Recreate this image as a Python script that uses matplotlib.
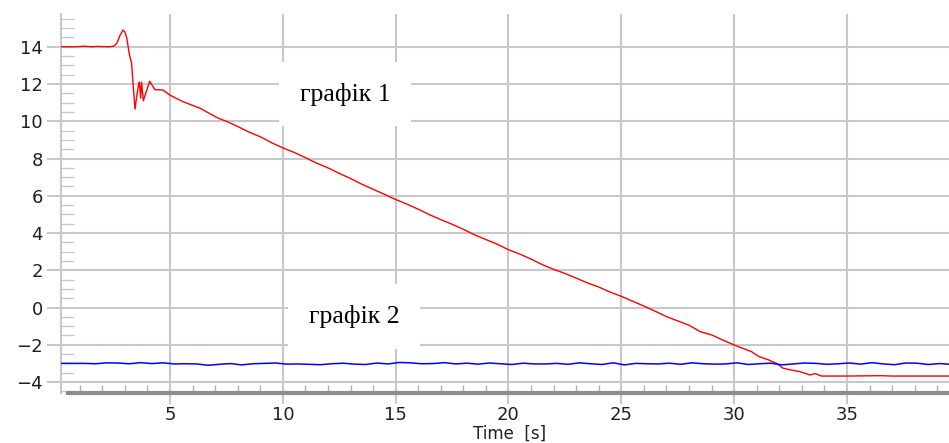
import numpy as np
import matplotlib
matplotlib.use("Agg")
import matplotlib.pyplot as plt
from matplotlib.ticker import MultipleLocator

# graph 1 (red): time [s] and value
red_t = [0.17, 0.8, 1.2, 1.5, 1.8, 2.3, 2.5, 2.65, 2.78, 2.92, 3.0, 3.08, 3.2, 3.3,
         3.36, 3.45, 3.52, 3.6, 3.64, 3.7, 3.74, 3.82, 3.95, 4.1, 4.33, 4.69, 5.0,
         5.58, 6.33, 7.13, 7.5, 8.0, 8.5, 9.0, 9.5, 10.0, 10.5, 11.0, 11.5, 12.0,
         12.5, 13.0, 13.5, 14.0, 14.5, 15.0, 15.5, 16.0, 16.5, 17.0, 17.5, 18.0,
         18.5, 19.0, 19.5, 20.0, 20.5, 21.0, 21.5, 22.0, 22.5, 23.0, 23.5, 24.0,
         24.5, 25.0, 25.38, 26.0, 26.5, 27.0, 27.5, 28.0, 28.5, 29.0, 29.5, 30.0,
         30.4, 30.77, 31.1, 31.5, 31.88, 32.17, 32.5, 32.9, 33.36, 33.6, 33.87,
         35.0, 36.5, 37.0, 38.5, 39.52]
red_v = [14.0, 14.0, 14.03, 14.0, 14.02, 14.0, 14.03, 14.2, 14.6, 14.9, 14.8, 14.5,
         13.6, 13.1, 12.05, 10.65, 11.3, 11.9, 12.1, 11.25, 12.1, 11.1, 11.6, 12.15,
         11.7, 11.68, 11.4, 11.05, 10.7, 10.17, 10.0, 9.72, 9.42, 9.17, 8.85, 8.57,
         8.33, 8.05, 7.75, 7.5, 7.2, 6.93, 6.62, 6.35, 6.08, 5.8, 5.55, 5.28, 4.98,
         4.72, 4.47, 4.2, 3.9, 3.65, 3.4, 3.1, 2.87, 2.6, 2.3, 2.05, 1.83, 1.58,
         1.32, 1.1, 0.83, 0.6, 0.4, 0.08, -0.2, -0.49, -0.72, -0.95, -1.3, -1.47,
         -1.75, -2.01, -2.2, -2.37, -2.64, -2.8, -3.0, -3.26, -3.35, -3.44, -3.62,
         -3.55, -3.68, -3.68, -3.66, -3.68, -3.68, -3.68]

# graph 2 (blue): sampled about every 0.5 s
blue_v = [-3.00, -3.00, -3.00, -3.02, -2.97, -2.98, -3.02, -2.96, -3.01, -2.97,
          -3.03, -3.02, -3.03, -3.10, -3.05, -3.01, -3.08, -3.02, -3.00, -2.98,
          -3.04, -3.03, -3.05, -3.07, -3.02, -2.99, -3.04, -3.06, -2.98, -3.03,
          -2.95, -2.97, -3.02, -3.01, -2.96, -3.03, -2.99, -3.04, -2.98, -3.02,
          -3.06, -2.99, -3.03, -3.03, -3.00, -3.05, -2.97, -3.02, -3.06, -2.97,
          -3.08, -3.00, -3.02, -3.03, -2.99, -3.05, -2.97, -3.02, -3.04, -3.03,
          -2.97, -3.06, -3.02, -2.99, -3.08, -3.03, -2.98, -3.00, -3.05, -3.02,
          -2.98, -3.04, -2.96, -3.03, -3.07, -2.98, -2.99, -3.06, -3.01, -3.05]
blue_t = np.linspace(0.2, 39.6, len(blue_v))

x_ticks = [5, 10, 15, 20, 25, 30, 35]
y_ticks = [-4, -2, 0, 2, 4, 6, 8, 10, 12, 14]

grid_c = '#c8c8c8'

fig = plt.figure(figsize=(9.49, 4.43), dpi=100)
ax = fig.add_axes([61 / 949, 50 / 443, 888 / 949, 379 / 443])

ax.plot(red_t, red_v, color='#ff0000', linewidth=1.0, zorder=3)
ax.plot(blue_t, blue_v, color='#0000ff', linewidth=1.1, zorder=3)

ax.set_xlim(0.17, 39.52)
ax.set_ylim(-4.59, 15.76)
ax.set_xticks(x_ticks)
ax.set_yticks(y_ticks)
ax.xaxis.set_minor_locator(MultipleLocator(1))
ax.yaxis.set_minor_locator(MultipleLocator(0.5))
ax.grid(True, which='major', color=grid_c, linewidth=1.5, zorder=0)

ax.tick_params(axis='both', which='major', direction='out', color=grid_c, width=1.5,
               labelsize=13, labelcolor='#202020')
ax.tick_params(axis='x', which='major', length=8, pad=1)
ax.tick_params(axis='y', which='major', length=10, pad=3)
ax.tick_params(axis='x', which='minor', direction='in', length=6, width=1, color='#b0b0b0')
ax.tick_params(axis='y', which='minor', direction='in', length=9, width=1, color='#c8c8c8')

for s in ['top', 'right']:
    ax.spines[s].set_visible(False)
ax.spines['left'].set_color(grid_c)
ax.spines['left'].set_linewidth(1.5)
ax.spines['bottom'].set_color('#8c8c8c')
ax.spines['bottom'].set_linewidth(3)
ax.spines['bottom'].set_bounds(0.48, 39.52)

ax.set_xlabel('Time  [s]', fontsize=12, color='#202020')
ax.xaxis.set_label_coords(0.505, -0.083)

box = dict(boxstyle='square,pad=0.8', facecolor='white', edgecolor='none')
ax.text(12.75, 11.46, 'графік 1', fontsize=18.5, family='Liberation Serif',
        ha='center', va='center', bbox=box, zorder=4)
ax.text(13.17, -0.48, 'графік 2', fontsize=18.5, family='Liberation Serif',
        ha='center', va='center', bbox=box, zorder=4)

fig.savefig('out.png', dpi=100)
